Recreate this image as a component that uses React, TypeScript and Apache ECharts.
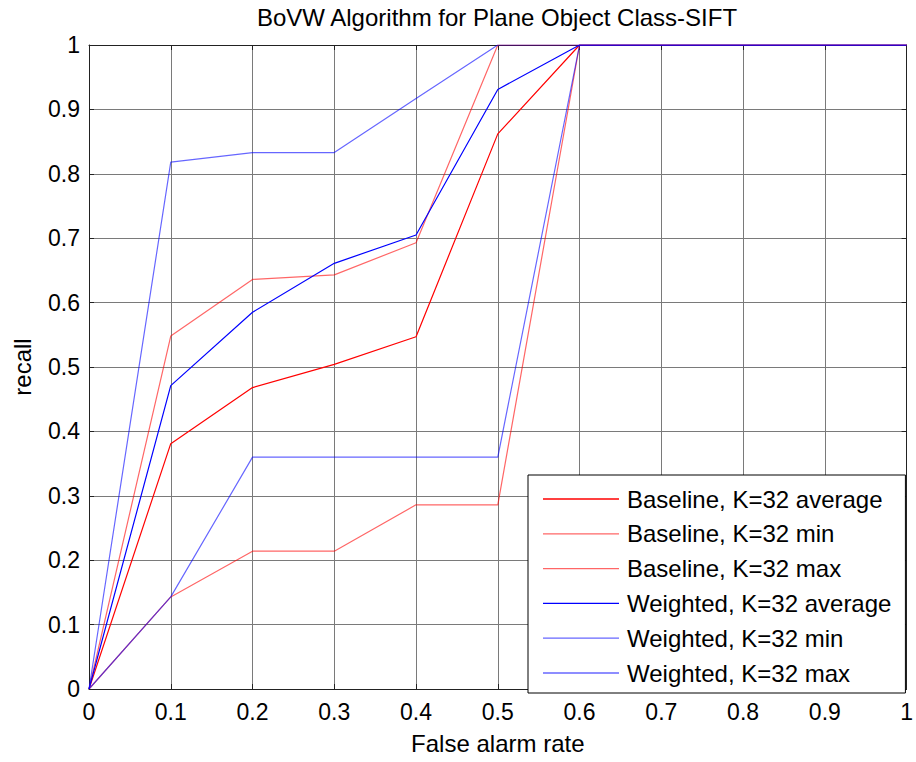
import React, { useEffect, useRef } from "react";
import * as echarts from "echarts";

const xValues = [0, 0.1, 0.2, 0.3, 0.4, 0.5, 0.6, 0.7, 0.8, 0.9, 1];
const baselineAvg = [0, 0.381, 0.468, 0.504, 0.547, 0.862, 1, 1, 1, 1, 1];
const baselineMin = [0, 0.143, 0.214, 0.214, 0.286, 0.286, 1, 1, 1, 1, 1];
const baselineMax = [0, 0.548, 0.636, 0.643, 0.693, 1, 1, 1, 1, 1, 1];
const weightedAvg = [0, 0.471, 0.585, 0.661, 0.705, 0.931, 1, 1, 1, 1, 1];
const weightedMin = [0, 0.143, 0.36, 0.36, 0.36, 0.36, 1, 1, 1, 1, 1];
const weightedMax = [0, 0.818, 0.833, 0.833, 0.917, 1, 1, 1, 1, 1, 1];

const seriesNames = [
  "Baseline, K=32 average",
  "Baseline, K=32 min",
  "Baseline, K=32 max",
  "Weighted, K=32 average",
  "Weighted, K=32 min",
  "Weighted, K=32 max",
];
const seriesColors = [
  "#ff0000",
  "rgba(255,0,0,0.6)",
  "rgba(255,0,0,0.6)",
  "#0000ff",
  "rgba(0,0,255,0.6)",
  "rgba(0,0,255,0.6)",
];

const FONT = "'Liberation Sans', Arial, Helvetica, sans-serif";
const fmt = (v: number) => String(Math.round(v * 10) / 10);

export default function App() {
  const ref = useRef<HTMLDivElement>(null);
  useEffect(() => {
    document.body.style.margin = "0";
    if (!ref.current) return;
    const chart = echarts.init(ref.current, null, { renderer: "svg" });
    const allData = [baselineAvg, baselineMin, baselineMax, weightedAvg, weightedMin, weightedMax];
    const axisCommon = {
      type: "value" as const,
      min: 0,
      max: 1,
      interval: 0.1,
    };
    chart.setOption({
      animation: false,
      backgroundColor: "#ffffff",
      textStyle: { fontFamily: FONT },
      graphic: [
        {
          type: "text",
          x: 497,
          y: 17,
          style: {
            text: "BoVW Algorithm for Plane Object Class-SIFT",
            font: `24px ${FONT}`,
            fill: "#000",
            textAlign: "center",
            textVerticalAlign: "middle",
          },
        },
      ],
      grid: { left: 89, right: 8, top: 45, bottom: 73, containLabel: false },
      legend: {
        orient: "vertical",
        left: 528,
        top: 475,
        data: seriesNames,
        icon: "rect",
        backgroundColor: "#ffffff",
        borderColor: "#000000",
        borderWidth: 1,
        padding: [12, 14, 8, 15],
        itemWidth: 76,
        itemHeight: 1.3,
        itemGap: 10.8,
        textStyle: { fontSize: 24, fontFamily: FONT, color: "#000", lineHeight: 24, padding: [0, 0, 0, 3] },
        selectedMode: false,
        z: 10,
      },
      xAxis: [
        {
          ...axisCommon,
          position: "bottom",
          name: "False alarm rate",
          nameLocation: "middle",
          nameGap: 42,
          nameTextStyle: { fontSize: 24, color: "#000", fontFamily: FONT },
          axisLine: { show: true, lineStyle: { color: "#222", width: 1 } },
          axisTick: { show: true, inside: true, length: 5, lineStyle: { color: "#222" } },
          axisLabel: { fontSize: 23, color: "#000", margin: 11, formatter: fmt, fontFamily: FONT },
          splitLine: { show: true, lineStyle: { color: "#7a7a7a", width: 1 } },
        },
        {
          ...axisCommon,
          position: "top",
          axisLine: { show: true, onZero: false, lineStyle: { color: "#222", width: 1 } },
          axisTick: { show: true, inside: true, length: 5, lineStyle: { color: "#222" } },
          axisLabel: { show: false },
          splitLine: { show: false },
        },
      ],
      yAxis: [
        {
          ...axisCommon,
          position: "left",
          name: "recall",
          nameLocation: "middle",
          nameGap: 55,
          nameRotate: 90,
          nameTextStyle: { fontSize: 24, color: "#000", fontFamily: FONT },
          axisLine: { show: true, lineStyle: { color: "#222", width: 1 } },
          axisTick: { show: true, inside: true, length: 5, lineStyle: { color: "#222" } },
          axisLabel: { fontSize: 23, color: "#000", margin: 9, formatter: fmt, fontFamily: FONT },
          splitLine: { show: true, lineStyle: { color: "#7a7a7a", width: 1 } },
        },
        {
          ...axisCommon,
          position: "right",
          axisLine: { show: true, onZero: false, lineStyle: { color: "#222", width: 1 } },
          axisTick: { show: true, inside: true, length: 5, lineStyle: { color: "#222" } },
          axisLabel: { show: false },
          splitLine: { show: false },
        },
      ],
      series: seriesNames.map((name, i) => ({
        name,
        type: "line",
        xAxisIndex: 0,
        yAxisIndex: 0,
        symbol: "none",
        showSymbol: false,
        color: seriesColors[i],
        itemStyle: { color: seriesColors[i] },
        lineStyle: { color: seriesColors[i], width: 1.2 },
        data: xValues.map((x, j) => [x, allData[i][j]]),
        z: 3,
      })),
    });
    return () => chart.dispose();
  }, []);
  return <div ref={ref} style={{ width: 916, height: 762 }} />;
}
